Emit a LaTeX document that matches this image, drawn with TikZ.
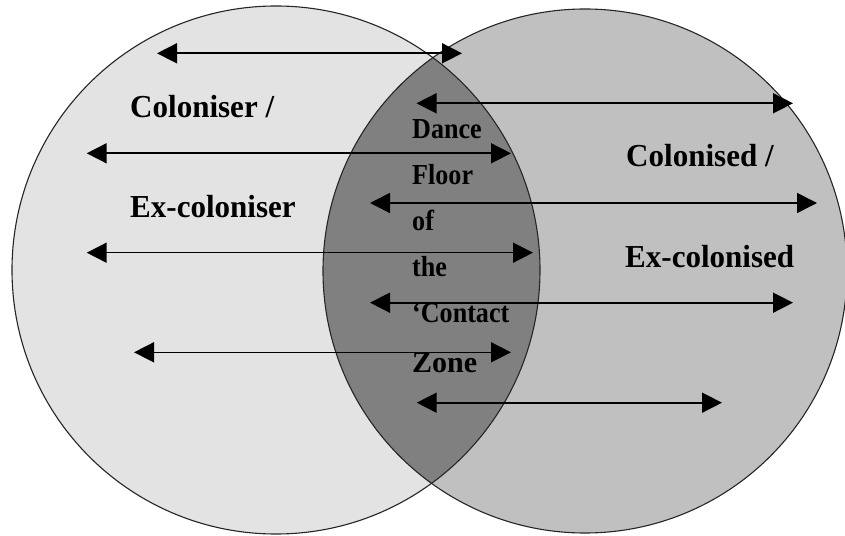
\documentclass[tikz,border=0pt]{standalone}
\usepackage{fontspec}
\usepackage{graphicx}
\setmainfont{Liberation Serif}
\usetikzlibrary{arrows.meta}
\definecolor{leftfill}{HTML}{E3E3E3}
\definecolor{rightfill}{HTML}{C0C0C0}
\definecolor{lensfill}{HTML}{808080}
\newcommand{\narrow}[1]{\scalebox{0.9}[1]{#1}}
\begin{document}
\begin{tikzpicture}[x=1bp,y=-1bp,
  side/.style={font=\fontsize{32bp}{32bp}\selectfont\bfseries, inner sep=0pt, anchor=base west},
  mid/.style={font=\fontsize{29bp}{29bp}\selectfont\bfseries, inner sep=0pt, anchor=base west},
  dbl/.style={{Triangle[length=20bp,width=20bp]}-{Triangle[length=20bp,width=20bp]}, line width=1.6bp},
  rim/.style={line width=1.1bp, draw=black!85}]
\useasboundingbox (0,0) rectangle (845,536);
\coordinate (LC) at (276,270);
\coordinate (RC) at (585,271);
\fill[leftfill] (LC) circle [radius=264bp];
\fill[rightfill] (RC) circle [radius=262bp];
\begin{scope}
  \clip (LC) circle [radius=264bp];
  \fill[lensfill] (RC) circle [radius=262bp];
\end{scope}
\draw[rim] (LC) circle [radius=264bp];
\draw[rim] (RC) circle [radius=262bp];

\node[side] (t1) at (130,118) {\scalebox{0.97}[1]{Coloniser /}};
\node[side] (t2) at (130,217.3) {\scalebox{0.97}[1]{Ex-coloniser}};
\node[side] (t3) at (626,167) {\scalebox{0.97}[1]{Colonised /}};
\node[side] (t4) at (625,267.3) {\scalebox{0.97}[1]{Ex-colonised}};

\node[mid] (m1) at (412,138.3) {\narrow{Dance}};
\node[mid] (m2) at (412,184.3) {\narrow{Floor}};
\node[mid] (m3) at (412,230.3) {\narrow{of}};
\node[mid] (m4) at (412,276.3) {\narrow{the}};
\node[mid] (m5) at (412,322.5) {\narrow{‘Contact}};
\node[mid,font=\fontsize{30bp}{30bp}\selectfont\bfseries] (m6) at (412,372.7) {Zone};

\coordinate (a1l) at (157,53.3);   \coordinate (a1r) at (462,53.3);
\coordinate (a2l) at (416.5,103.3); \coordinate (a2r) at (793,103.3);
\coordinate (a3l) at (86.7,153.3); \coordinate (a3r) at (511,153.3);
\coordinate (a4l) at (370,203);    \coordinate (a4r) at (817,203);
\coordinate (a5l) at (86.7,252.7); \coordinate (a5r) at (533,252.7);
\coordinate (a6l) at (370,302.7);  \coordinate (a6r) at (793,302.7);
\coordinate (a7l) at (134,352.3);  \coordinate (a7r) at (511,352.3);
\coordinate (a8l) at (416.7,402.7); \coordinate (a8r) at (722,402.7);

\foreach \i in {1,...,8} {
  \draw[dbl] (a\i l) -- (a\i r);
}
\end{tikzpicture}
\end{document}
